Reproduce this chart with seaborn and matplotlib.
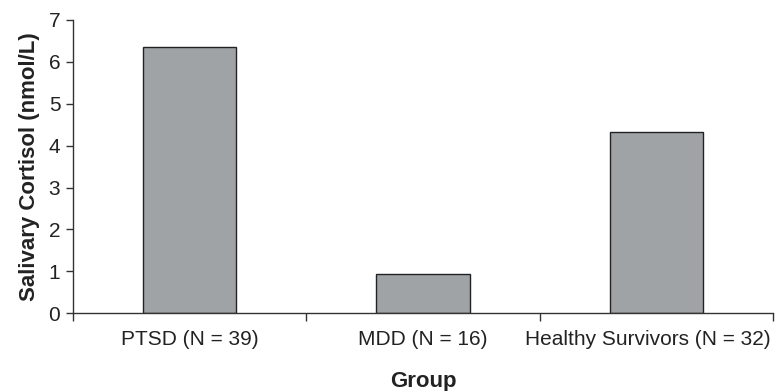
import pandas as pd
import matplotlib.pyplot as plt
import matplotlib.transforms as mtransforms
import seaborn as sns

groups = ["PTSD (N = 39)", "MDD (N = 16)", "Healthy Survivors (N = 32)"]
cortisol = [6.35, 0.93, 4.32]

df = pd.DataFrame({"Group": groups, "Cortisol": cortisol})

sns.set_style("white")
plt.rcParams['font.family'] = ['Liberation Sans', 'DejaVu Sans']

fig = plt.figure(figsize=(7.75, 3.91), dpi=100)
ax = fig.add_axes([0.094, 0.199, 0.904, 0.750])

sns.barplot(data=df, x="Group", y="Cortisol", color="#a0a3a6", saturation=1,
            width=0.4, edgecolor="#222222", linewidth=1.0, ax=ax)

ax.set_ylim(0, 7)
ax.set_xlim(-0.5, 2.5)
ax.set_yticks(range(0, 8))
ax.set_xticks([-0.5, 0.5, 1.5, 2.5], minor=True)
ax.tick_params(axis="x", which="major", length=0, labelsize=15, pad=12, colors="#222222")
ax.tick_params(axis="x", which="minor", length=6, width=1, color="#333333",
               direction="out", bottom=True)
ax.tick_params(axis="y", length=5, width=1, color="#333333", direction="out",
               labelsize=15, pad=4, labelcolor="#222222", left=True)

# last label is pushed left a bit so it stays inside the figure
shift = mtransforms.ScaledTranslation(-9 / 100, 0, fig.dpi_scale_trans)
last = ax.get_xticklabels()[-1]
last.set_transform(last.get_transform() + shift)

ax.set_xlabel("Group", fontsize=16, fontweight="bold", labelpad=16, color="#222222")
ax.set_ylabel("Salivary Cortisol (nmol/L)", fontsize=16, fontweight="bold",
              labelpad=6, color="#222222")

for s in ["top", "right"]:
    ax.spines[s].set_visible(False)
for s in ["left", "bottom"]:
    ax.spines[s].set_color("#333333")
    ax.spines[s].set_linewidth(1.0)

fig.savefig("out.png", dpi=100)
